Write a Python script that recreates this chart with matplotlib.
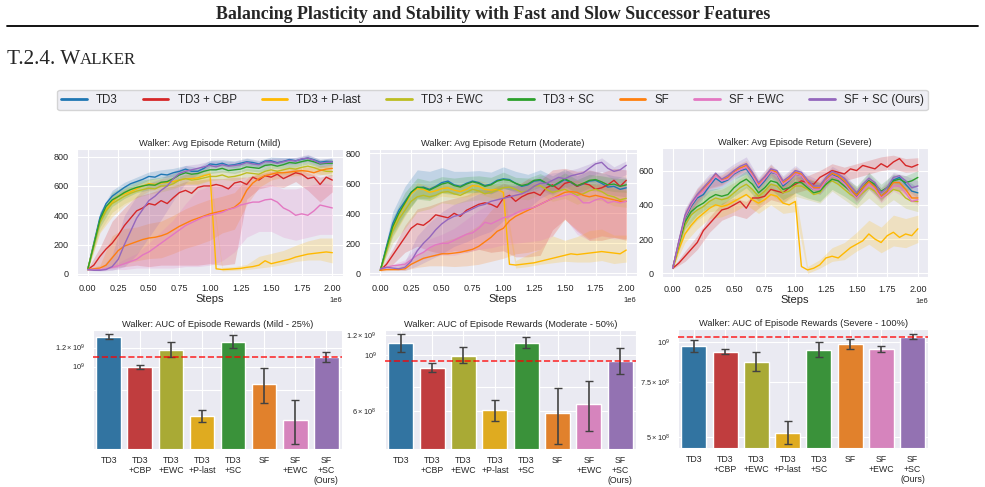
import numpy as np
import matplotlib.pyplot as plt
import seaborn as sns
from matplotlib.lines import Line2D
from matplotlib.ticker import MultipleLocator, NullLocator

sns.set_style("darkgrid")
plt.rcParams['font.family'] = ['Liberation Sans', 'DejaVu Sans']

# x grid of the curves (every 0.05e6 steps), bands are given every 0.1e6
steps = np.arange(41) * 50000
band_steps = steps[::2]

methods = ["TD3", "TD3 + CBP", "TD3 + P-last", "TD3 + EWC", "TD3 + SC", "SF", "SF + EWC", "SF + SC (Ours)"]
line_colors = ["#1f77b4", "#d62728", "#ffb900", "#bcbd22", "#2ca02c", "#ff7f0e", "#e377c2", "#9467bd"]

# ---- Mild ----
mild_td3 = [30,210,385,480,530,560,590,615,630,645,665,660,680,675,690,700,715,700,700,720,750,745,755,740,745,755,765,760,750,770,772,758,768,780,772,782,790,778,762,768,766]
mild_cbp = [30,60,120,170,210,265,330,380,430,450,480,470,500,480,520,555,570,550,590,600,600,610,600,580,620,630,610,660,640,670,660,680,650,670,690,680,650,660,610,660,640]
mild_plast = [30,200,360,440,490,530,545,560,580,600,615,610,620,625,630,640,650,650,655,670,680,35,30,32,35,38,45,50,60,90,70,80,90,100,115,125,135,140,145,150,145]
mild_ewc = [30,190,350,430,480,505,530,550,565,575,585,580,600,600,615,640,650,640,645,655,665,665,675,660,665,675,690,685,680,700,710,700,710,720,715,727,735,725,710,700,698]
mild_sc = [30,200,370,460,505,528,555,575,590,600,608,605,625,630,650,675,690,680,685,700,710,710,720,705,710,715,730,725,720,740,745,735,745,760,755,766,775,765,750,755,755]
mild_sf = [30,35,40,60,110,160,190,205,220,235,245,250,260,275,300,325,345,365,380,395,410,420,430,440,455,490,570,620,650,670,680,690,690,695,700,705,700,690,705,715,720]
mild_sfewc = [30,30,30,35,45,55,70,85,100,130,150,180,210,240,270,300,330,350,370,390,400,410,420,440,450,470,480,490,490,505,510,490,450,430,400,410,400,430,470,460,450]
mild_sfsc = [30,25,25,30,50,100,200,290,380,440,500,530,570,600,650,685,700,710,720,730,740,730,745,735,740,745,760,750,745,765,765,755,765,775,770,785,790,775,755,760,765]

mild_td3_lo = [5,40,35,30,25,25,25,25,20,20,20,20,20,20,20,20,20,20,20,20,20]
mild_td3_hi = [5,40,40,35,30,30,30,30,25,25,25,25,25,25,25,25,25,20,20,20,25]
mild_cbp_lo = [5,80,170,280,370,430,440,460,510,530,530,540,550,100,60,60,60,60,80,120,80]
mild_cbp_hi = [5,60,150,120,100,70,80,80,60,50,50,50,40,50,40,40,40,30,40,50,40]
mild_plast_lo = [5,80,100,80,60,50,40,40,40,40,40,10,10,15,20,20,25,30,40,50,70]
mild_plast_hi = [5,40,40,35,30,30,30,30,30,30,30,15,15,20,60,70,70,80,90,100,100]
mild_ewc_lo = [5,60,60,50,45,40,40,35,35,35,30,30,30,30,30,30,30,30,30,30,30]
mild_ewc_hi = [5,40,40,40,35,35,35,30,30,30,30,30,30,30,30,30,30,30,30,30,30]
mild_sc_lo = [5,50,45,40,35,35,30,30,30,30,25,25,25,25,25,25,25,25,25,25,25]
mild_sc_hi = [5,50,50,45,45,40,35,35,30,30,30,30,30,30,30,30,30,25,25,25,25]
mild_sf_lo = [5,10,60,120,130,140,150,160,170,180,180,150,150,100,60,40,30,30,30,30,30]
mild_sf_hi = [5,20,150,120,100,100,100,100,100,100,100,100,100,80,40,30,30,30,30,30,30]
mild_sfewc_lo = [5,5,15,40,60,110,170,230,280,320,340,330,300,230,200,220,200,170,150,200,180]
mild_sfewc_hi = [5,5,10,30,40,60,80,100,150,200,200,180,160,140,110,100,130,180,200,150,160]
mild_sfsc_lo = [5,5,25,150,250,250,200,150,80,40,30,30,25,25,25,25,25,25,25,25,25]
mild_sfsc_hi = [5,5,80,200,150,120,80,50,40,30,30,25,25,25,25,25,25,25,25,25,25]

# ---- Moderate ----
mod_td3 = [20,180,330,420,480,540,570,575,560,580,605,615,590,580,600,615,605,585,595,620,630,625,600,580,590,615,620,600,580,600,625,605,580,595,615,620,600,575,580,560,570]
mod_cbp = [20,60,120,180,240,300,330,320,350,390,380,370,400,380,420,440,460,470,460,440,500,520,480,510,530,540,520,570,590,560,600,610,580,600,590,560,570,590,620,580,620]
mod_plast = [20,160,300,390,460,530,565,560,540,550,565,570,555,545,560,585,580,560,555,560,540,60,55,60,65,70,80,90,100,110,120,130,125,130,135,140,145,140,135,130,155]
mod_ewc = [20,150,280,360,420,480,510,520,510,520,540,545,530,520,540,560,550,530,540,555,570,575,560,540,550,580,585,560,540,550,560,540,520,530,550,560,545,520,510,490,500]
mod_sc = [20,170,310,400,470,540,575,570,555,575,595,605,585,575,595,610,600,580,590,615,625,620,600,585,595,620,625,600,580,605,630,610,585,600,620,625,610,590,595,580,590]
mod_sf = [20,25,25,25,30,60,80,100,110,120,130,130,135,140,150,160,180,210,240,280,300,350,380,400,420,440,460,480,500,520,540,545,540,520,510,520,510,500,490,480,480]
mod_sfewc = [30,40,50,55,60,90,120,140,170,190,200,200,220,240,260,270,300,340,330,350,370,380,400,420,430,440,460,480,500,510,520,530,510,470,470,490,500,470,480,470,480]
mod_sfsc = [30,40,35,30,40,80,150,200,240,290,330,360,380,390,410,430,450,460,480,490,500,510,520,530,550,580,600,600,620,640,630,650,660,670,700,730,740,700,680,690,720]

mod_td3_lo = [5,60,80,70,60,60,60,60,60,60,60,60,60,60,60,60,60,60,60,60,60]
mod_td3_hi = [5,80,100,120,120,100,90,80,80,80,80,80,70,70,70,70,70,70,70,70,70]
mod_cbp_lo = [5,60,100,150,200,250,250,280,300,320,350,370,420,400,300,240,300,370,350,380,400]
mod_cbp_hi = [5,40,80,100,100,100,100,100,100,100,100,100,100,100,100,100,100,100,100,80,70]
mod_plast_lo = [5,60,80,60,50,50,50,50,50,50,50,20,20,20,30,40,50,60,60,70,80]
mod_plast_hi = [5,40,40,40,40,40,40,40,40,40,40,30,60,80,150,100,120,150,150,120,100]
mod_ewc_lo = [5,80,120,100,80,70,70,60,60,60,60,60,60,60,60,60,60,60,60,60,60]
mod_ewc_hi = [5,40,50,50,50,50,50,50,50,50,50,50,50,50,50,50,50,50,50,50,50]
mod_sc_lo = [5,60,80,80,70,60,60,60,60,60,60,50,50,50,50,50,50,50,50,50,50]
mod_sc_hi = [5,60,70,60,60,50,50,50,50,50,50,40,40,40,40,40,40,40,40,40,40]
mod_sf_lo = [5,5,10,40,60,80,90,100,120,160,200,250,280,300,250,180,250,280,260,250,250]
mod_sf_hi = [5,5,30,40,60,80,100,120,140,180,200,150,120,100,80,80,80,80,80,80,80]
mod_sfewc_lo = [5,10,20,40,60,80,100,120,140,160,180,200,220,240,250,150,250,250,250,250,250]
mod_sfewc_hi = [5,10,30,50,60,60,80,100,120,140,160,180,180,150,120,100,100,100,120,120,120]
mod_sfsc_lo = [5,10,20,100,150,200,200,200,200,200,150,120,120,100,80,60,60,60,60,60,60]
mod_sfsc_hi = [5,10,40,100,100,80,80,80,80,80,80,70,60,50,50,50,40,30,30,30,30]

# ---- Severe ----
sev_td3 = [30,180,320,390,440,460,510,555,530,545,580,600,610,560,500,540,590,580,510,540,580,570,520,490,490,540,575,560,530,490,450,500,540,510,450,480,545,560,520,480,470]
sev_cbp = [30,60,100,140,180,250,290,330,370,380,400,420,380,440,440,450,490,480,470,500,520,540,530,520,560,580,600,590,580,610,600,630,620,610,640,620,650,670,630,620,635]
sev_plast = [30,140,230,280,320,350,380,400,390,400,420,440,460,430,410,430,460,450,410,400,420,40,20,30,50,90,100,90,120,150,170,190,230,200,180,220,240,210,230,220,260]
sev_ewc = [30,160,280,340,370,390,420,440,430,440,470,500,520,490,450,480,520,510,470,480,510,510,490,460,470,520,540,520,490,460,440,470,500,480,440,460,490,480,440,420,420]
sev_sc = [30,170,300,360,390,410,440,460,450,460,500,530,550,520,470,500,540,530,490,500,530,530,500,470,480,520,550,540,510,480,460,500,540,520,480,500,540,550,530,540,560]
sev_sf = [30,185,330,400,455,495,530,580,545,560,595,615,630,580,520,560,605,590,530,555,590,580,530,500,500,550,585,570,540,495,455,500,535,505,450,480,530,530,490,440,440]
sev_sfewc = [30,180,330,400,450,480,520,570,540,550,585,605,620,570,510,550,595,580,520,545,580,570,520,490,490,540,570,555,525,480,440,480,520,490,440,465,510,510,470,420,430]
sev_sfsc = [30,190,340,410,460,500,540,585,550,570,600,625,640,590,530,565,610,600,540,565,600,590,545,510,510,560,595,580,555,510,470,520,555,530,470,500,560,570,540,500,510]

sev_td3_lo = [5,40,40,30,30,30,30,30,30,30,30,30,30,30,30,30,30,30,30,30,30]
sev_td3_hi = [5,40,40,30,30,30,30,30,30,30,30,30,30,30,30,30,30,30,30,30,30]
sev_cbp_lo = [5,30,40,50,60,60,60,60,60,60,50,40,40,40,40,40,40,40,40,40,40]
sev_cbp_hi = [5,30,40,40,40,40,40,40,40,40,40,40,40,40,40,40,40,40,40,40,40]
sev_plast_lo = [5,50,60,60,60,60,60,60,60,60,60,20,20,30,40,40,60,60,80,80,80]
sev_plast_hi = [5,40,50,50,50,50,50,50,50,50,50,20,30,50,60,70,80,90,100,90,80]
sev_ewc_lo = [5,50,60,60,60,60,60,60,60,60,60,60,60,60,60,60,60,60,60,60,60]
sev_ewc_hi = [5,50,60,60,60,60,60,60,60,60,60,60,60,60,60,60,60,60,60,60,60]
sev_sc_lo = [5,40,50,50,50,50,50,50,50,60,60,60,60,60,60,60,50,50,50,50,50]
sev_sc_hi = [5,40,50,50,50,50,50,50,50,50,50,50,50,50,50,50,50,40,40,40,40]
sev_sf_lo = [5,40,40,35,30,30,30,30,30,30,30,30,30,30,30,30,30,30,30,30,30]
sev_sf_hi = [5,40,40,35,30,30,30,30,30,30,30,30,30,30,30,30,30,30,30,30,30]
sev_sfewc_lo = [5,40,40,30,30,30,30,30,30,30,30,30,30,30,30,30,30,30,30,30,30]
sev_sfewc_hi = [5,40,40,30,30,30,30,30,30,30,30,30,30,30,30,30,30,30,30,30,30]
sev_sfsc_lo = [5,40,40,40,30,30,30,30,30,30,30,30,30,30,30,30,30,30,30,30,30]
sev_sfsc_hi = [5,40,40,40,40,40,40,30,30,30,30,30,30,30,30,30,30,30,30,30,30]

# ---- AUC bars (x 1e9), bar order differs from legend order ----
bar_labels = ["TD3", "TD3\n+CBP", "TD3\n+EWC", "TD3\n+P-last", "TD3\n+SC", "SF", "SF\n+EWC", "SF\n+SC\n(Ours)"]
bar_colors = ["#1f77b4", "#d62728", "#bcbd22", "#ffb900", "#2ca02c", "#ff7f0e", "#e377c2", "#9467bd"]
auc_mild = [1.334, 0.994, 1.173, 0.623, 1.271, 0.844, 0.600, 1.094]
auc_mild_lo = [1.308, 0.975, 1.101, 0.590, 1.200, 0.703, 0.475, 1.042]
auc_mild_hi = [1.368, 1.019, 1.263, 0.660, 1.355, 0.990, 0.726, 1.151]
auc_mod = [1.112, 0.891, 0.994, 0.606, 1.116, 0.588, 0.640, 0.950]
auc_mod_lo = [1.025, 0.859, 0.927, 0.550, 1.063, 0.443, 0.500, 0.839]
auc_mod_hi = [1.207, 0.927, 1.072, 0.664, 1.182, 0.738, 0.789, 1.069]
auc_sev = [0.973, 0.934, 0.868, 0.517, 0.945, 0.985, 0.952, 1.037]
auc_sev_lo = [0.934, 0.916, 0.811, 0.474, 0.896, 0.952, 0.930, 1.022]
auc_sev_hi = [1.017, 0.952, 0.930, 0.563, 1.000, 1.022, 0.976, 1.060]

W, H = 985, 487
fig = plt.figure(figsize=(W / 100, H / 100), dpi=100)


def box(l, t, r, b):
    return [l / W, 1 - b / H, (r - l) / W, (b - t) / H]


# header
fig.text(493 / W, 1 - 19 / H, "Balancing Plasticity and Stability with Fast and Slow Successor Features",
         ha='center', va='baseline', fontsize=12.9, fontweight='bold', family='Liberation Serif')
fig.add_artist(Line2D([7 / W, 978 / W], [1 - 26 / H, 1 - 26 / H], color='black', lw=1.3))
t1 = fig.text(7 / W, 1 - 64 / H, "T.2.4. W", ha='left', va='baseline', fontsize=15.3, family='Liberation Serif')
renderer = fig.canvas.get_renderer()
ext = t1.get_window_extent(renderer)
fig.text(ext.x1 / W, 1 - 64 / H, "ALKER", ha='left', va='baseline', fontsize=12.2, family='Liberation Serif')

# legend
handles = [Line2D([], [], color=c, lw=2) for c in line_colors]
leg = fig.legend(handles, methods, loc='center', bbox_to_anchor=(492.5 / W, 1 - 100 / H), ncol=8,
                 fontsize=8.3, frameon=True, handlelength=2.2, handletextpad=0.8, columnspacing=2.2,
                 borderpad=0.35)

line_panels = [
    ("Mild", box(76.7, 149, 342.7, 276), (-14, 852), [0, 200, 400, 600, 800],
     [mild_td3, mild_cbp, mild_plast, mild_ewc, mild_sc, mild_sf, mild_sfewc, mild_sfsc],
     [(mild_td3_lo, mild_td3_hi), (mild_cbp_lo, mild_cbp_hi), (mild_plast_lo, mild_plast_hi),
      (mild_ewc_lo, mild_ewc_hi), (mild_sc_lo, mild_sc_hi), (mild_sf_lo, mild_sf_hi),
      (mild_sfewc_lo, mild_sfewc_hi), (mild_sfsc_lo, mild_sfsc_hi)]),
    ("Moderate", box(369.3, 149, 636.7, 276), (-18, 829), [0, 200, 400, 600, 800],
     [mod_td3, mod_cbp, mod_plast, mod_ewc, mod_sc, mod_sf, mod_sfewc, mod_sfsc],
     [(mod_td3_lo, mod_td3_hi), (mod_cbp_lo, mod_cbp_hi), (mod_plast_lo, mod_plast_hi),
      (mod_ewc_lo, mod_ewc_hi), (mod_sc_lo, mod_sc_hi), (mod_sf_lo, mod_sf_hi),
      (mod_sfewc_lo, mod_sfewc_hi), (mod_sfsc_lo, mod_sfsc_hi)]),
    ("Severe", box(661.7, 148.3, 928.3, 276.7), (-19.5, 730), [0, 200, 400, 600],
     [sev_td3, sev_cbp, sev_plast, sev_ewc, sev_sc, sev_sf, sev_sfewc, sev_sfsc],
     [(sev_td3_lo, sev_td3_hi), (sev_cbp_lo, sev_cbp_hi), (sev_plast_lo, sev_plast_hi),
      (sev_ewc_lo, sev_ewc_hi), (sev_sc_lo, sev_sc_hi), (sev_sf_lo, sev_sf_hi),
      (sev_sfewc_lo, sev_sfewc_hi), (sev_sfsc_lo, sev_sfsc_hi)]),
]

for name, pos, ylim, yticks, means, bands in line_panels:
    ax = fig.add_axes(pos)
    for color, mean, (lo, hi) in zip(line_colors, means, bands):
        m = np.array(mean, dtype=float)[::2]
        ax.fill_between(band_steps, m - np.array(lo), m + np.array(hi), color=color, alpha=0.2, lw=0)
    for color, mean in zip(line_colors, means):
        ax.plot(steps, mean, color=color, lw=1.0)
    ax.set_xlim(-0.09e6, 2.085e6)
    ax.set_ylim(*ylim)
    ax.xaxis.set_major_locator(MultipleLocator(250000))
    ax.set_yticks(yticks)
    ax.tick_params(labelsize=6.5, pad=2.5, colors='.15')
    ax.xaxis.get_offset_text().set_fontsize(5.5)
    ax.set_xlabel("Steps", fontsize=8, labelpad=0.5)
    ax.set_title(f"Walker: Avg Episode Return ({name})", fontsize=6.7, pad=2.5)

bar_panels = [
    ("Mild - 25%", box(93.3, 330, 341.7, 449.3), (0.452, 1.42), auc_mild, auc_mild_lo, auc_mild_hi,
     [0.8, 1.0, 1.2], ["", r"$\mathdefault{10^{9}}$", r"$\mathdefault{1.2\times10^{9}}$"]),
    ("Moderate - 50%", box(385, 330, 636, 449.3), (0.423, 1.256), auc_mod, auc_mod_lo, auc_mod_hi,
     [0.6, 0.75, 1.0, 1.2], [r"$\mathdefault{6\times10^{8}}$", "", r"$\mathdefault{10^{9}}$",
                             r"$\mathdefault{1.2\times10^{9}}$"]),
    ("Severe - 100%", box(678.3, 329, 928.3, 448.3), (0.461, 1.102), auc_sev, auc_sev_lo, auc_sev_hi,
     [0.5, 0.75, 1.0], [r"$\mathdefault{5\times10^{8}}$", r"$\mathdefault{7.5\times10^{8}}$",
                        r"$\mathdefault{10^{9}}$"]),
]

xpos = np.arange(len(bar_labels))
for name, pos, ylim, vals, lo, hi, ticks, tlabels in bar_panels:
    ax = fig.add_axes(pos)
    ax.set_yscale('log')
    v = np.array(vals) * 1e9
    ax.bar(xpos, v, width=0.8, color=[sns.desaturate(c, 0.75) for c in bar_colors],
           edgecolor='white', lw=1, zorder=2)
    yerr = [v - np.array(lo) * 1e9, np.array(hi) * 1e9 - v]
    ax.errorbar(xpos, v, yerr=yerr, fmt='none', ecolor='#424242', elinewidth=1.2, capsize=3, zorder=3)
    ax.axhline(v[-1], color='red', ls='--', lw=1.2, alpha=0.8, zorder=4)
    ax.set_xlim(-0.5, 7.5)
    ax.set_ylim(ylim[0] * 1e9, ylim[1] * 1e9)
    ax.set_yticks(np.array(ticks) * 1e9)
    ax.set_yticklabels(tlabels)
    ax.yaxis.set_minor_locator(NullLocator())
    ax.set_xticks(xpos)
    ax.set_xticklabels(bar_labels, linespacing=1.1)
    ax.tick_params(axis='y', labelsize=5.3, pad=2.5, colors='.15')
    ax.tick_params(axis='x', labelsize=6.3, pad=1.5, colors='.15')
    ax.set_title(f"Walker: AUC of Episode Rewards ({name})", fontsize=6.7, pad=2.5)

fig.savefig("out.png", dpi=100)
